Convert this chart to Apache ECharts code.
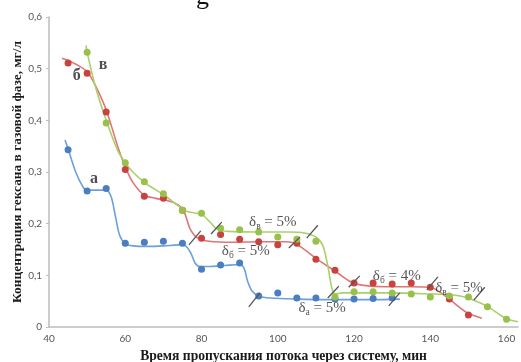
<!DOCTYPE html>
<html>
<head>
<meta charset="utf-8">
<script src="https://cdn.jsdelivr.net/npm/echarts@6/dist/echarts.min.js"></script>
<style>
  html, body { margin: 0; padding: 0; background: #fff; }
  #chart { width: 521px; height: 362px; }
</style>
</head>
<body>
<div id="chart"></div>
<script>
// Measured concentrations (x: minutes, y: mg/l)
const pointsA = [[45,0.343],[50,0.263],[55,0.268],[60,0.162],[65,0.164],[70,0.166],[75,0.162],[80,0.112],[85,0.120],[90,0.124],[95,0.060],[100,0.066],[105,0.056],[110,0.056],[115,0.054],[120,0.054],[125,0.055],[130,0.056]];
const pointsB = [[45,0.511],[50,0.491],[55,0.416],[60,0.305],[65,0.253],[70,0.249],[75,0.226],[80,0.172],[85,0.179],[90,0.170],[95,0.165],[100,0.159],[105,0.162],[110,0.131],[115,0.110],[120,0.085],[125,0.085],[130,0.083],[135,0.085],[140,0.077],[145,0.054],[150,0.023]];
const pointsV = [[50,0.532],[55,0.395],[60,0.318],[65,0.281],[70,0.258],[75,0.226],[80,0.220],[85,0.191],[90,0.188],[95,0.184],[100,0.174],[105,0.170],[110,0.166],[115,0.058],[120,0.068],[125,0.068],[130,0.066],[135,0.064],[140,0.058],[145,0.060],[150,0.058],[155,0.039],[160,0.015]];

// Approximating curves for each run
const curveA = [[44.2,0.362],[45,0.345],[47,0.30],[49,0.270],[50,0.265],[53,0.265],[55,0.265],[56.3,0.252],[57.4,0.215],[58.5,0.178],[60,0.161],[62,0.157],[66,0.156],[70,0.157],[74,0.159],[75.8,0.157],[77.2,0.143],[78.3,0.124],[79.6,0.117],[82,0.117],[86,0.119],[90,0.121],[91.2,0.113],[92.1,0.088],[93.3,0.069],[95,0.060],[98,0.056],[105,0.054],[115,0.053],[125,0.053],[132,0.054]];
const curveB = [[43.4,0.520],[45,0.516],[48,0.505],[50,0.494],[52,0.470],[55,0.420],[58,0.350],[60,0.310],[62,0.280],[65,0.255],[68,0.249],[71,0.245],[74,0.236],[75.6,0.220],[77,0.190],[79,0.172],[82,0.166],[88,0.164],[95,0.165],[102,0.165],[104,0.163],[106,0.155],[110,0.133],[113,0.118],[116,0.103],[119,0.088],[122,0.081],[128,0.078],[135,0.078],[140,0.077],[142,0.070],[145,0.054],[148,0.036],[150,0.026],[153.5,0.017]];
const curveV = [[49.7,0.545],[50,0.532],[52,0.470],[55,0.400],[58,0.342],[60,0.318],[62,0.300],[65,0.280],[70,0.256],[74,0.234],[76,0.224],[80,0.218],[82,0.205],[84,0.190],[87,0.185],[95,0.184],[103,0.184],[107,0.182],[110,0.174],[111.8,0.158],[113.2,0.115],[114.2,0.075],[115,0.064],[117,0.066],[130,0.066],[140,0.064],[146,0.062],[149,0.058],[152,0.050],[155,0.040],[158,0.025],[160,0.016],[163,0.010]];

// Curve letters and step annotations
const curveNames = [[51.8,0.286,'а'],[47.3,0.487,'б'],[54.2,0.507,'в']];
const stepNotes = [[98.7,0.203,'в','5%'],[91.6,0.147,'б','5%'],[111.6,0.037,'а','5%'],[131.2,0.099,'б','4%'],[147.5,0.075,'в','5%']];
// Break marks: [x1, y1, x2, y2]
const breakMarks = [[82.5,0.180,85.3,0.203],[76.7,0.159,79.8,0.186],[92.4,0.039,95.3,0.066],[102.9,0.153,105.8,0.174],[107.6,0.172,110.5,0.197],[113.1,0.056,116.0,0.079],[118.6,0.077,121.5,0.099],[139.1,0.072,142.0,0.097],[129.1,0.041,132.0,0.066],[151.4,0.052,154.3,0.077]];

const xTicks = { min: 40, max: 163, step: 20 };
const yTicks = { min: 0, max: 0.6, step: 0.1 };

const blue = '#4a7ec0', red = '#c8423f', green = '#98c04a';
const blueLine = '#6d9fdc', redLine = '#e07575', greenLine = '#a9d06a';
const serif = '"Liberation Serif", "DejaVu Serif", serif';

function curveSeries(data, color) {
  return { type: 'line', data: data, smooth: 0.3, symbol: 'none', lineStyle: { color: color, width: 1.6 }, z: 2, silent: true };
}
function pointSeries(data, color) {
  return { type: 'scatter', data: data, symbolSize: 7, itemStyle: { color: color, opacity: 1 }, z: 3, silent: true };
}

const chart = echarts.init(document.getElementById('chart'), null, { renderer: 'canvas' });
chart.setOption({
  animation: false,
  backgroundColor: '#fff',
  grid: { left: 49, right: 3, top: 17, bottom: 35, containLabel: false, outerBoundsMode: 'none' },
  xAxis: {
    type: 'value', min: xTicks.min, max: xTicks.max, interval: xTicks.step,
    name: 'Время пропускания потока через систему, мин',
    nameLocation: 'middle', nameGap: 22, nameMoveOverlap: false,
    nameTextStyle: { fontFamily: serif, fontWeight: 'bold', fontSize: 13.6, color: '#1a1a1a', padding: [0, 0, 0, 0] },
    axisLine: { lineStyle: { color: '#bdbdbd', width: 1.5 } },
    axisTick: { show: false },
    splitLine: { show: false },
    axisLabel: { showMaxLabel: false, color: '#555', fontSize: 10, margin: 7, fontFamily: 'Lato, "Open Sans", sans-serif' }
  },
  yAxis: {
    type: 'value', min: yTicks.min, max: yTicks.max, interval: yTicks.step,
    name: 'Концентрация гексана в газовой фазе, мг/л',
    nameLocation: 'middle', nameGap: 25, nameRotate: 90, nameMoveOverlap: false,
    nameTextStyle: { fontFamily: serif, fontWeight: 'bold', fontSize: 13.4, color: '#1a1a1a', padding: [0, 0, 0, 0] },
    axisLine: { show: true, lineStyle: { color: '#bdbdbd', width: 1.5 } },
    axisTick: { show: true, length: 3, lineStyle: { color: '#bdbdbd' } },
    splitLine: { show: false },
    axisLabel: {
      color: '#555', fontSize: 10, margin: 7, fontFamily: 'Lato, "Open Sans", sans-serif',
      formatter: v => v === 0 ? '0' : v.toFixed(1).replace('.', ',')
    }
  },
  series: [
    curveSeries(curveA, blueLine),
    curveSeries(curveB, redLine),
    curveSeries(curveV, greenLine),
    pointSeries(pointsA, blue),
    pointSeries(pointsB, red),
    pointSeries(pointsV, green),
    {
      type: 'line', data: [], symbol: 'none', silent: true, z: 4,
      markLine: {
        symbol: 'none', silent: true, animation: false,
        label: { show: false },
        lineStyle: { color: '#555', width: 1.3, type: 'solid' },
        data: breakMarks.map(m => [{ coord: [m[0], m[1]] }, { coord: [m[2], m[3]] }])
      }
    },
    {
      type: 'scatter', symbolSize: 0, silent: true, z: 5,
      data: curveNames.map(c => ({ value: [c[0], c[1]], name: c[2] })),
      label: { show: true, position: 'inside', formatter: p => p.name, fontFamily: serif, fontWeight: 'bold', fontSize: 16, color: '#222' }
    },
    {
      type: 'scatter', symbolSize: 0, silent: true, z: 5,
      data: stepNotes.map(s => ({ value: [s[0], s[1]], sub: s[2], pct: s[3] })),
      label: {
        show: true, position: 'inside',
        formatter: p => '{d|δ}{s|' + p.data.sub + '}{n| = ' + p.data.pct + '}',
        rich: {
          d: { fontFamily: serif, fontSize: 15, color: '#2a2a2a' },
          s: { fontFamily: serif, fontSize: 9.5, color: '#2a2a2a', padding: [9, 0, 0, 0] },
          n: { fontFamily: serif, fontSize: 15, color: '#2a2a2a' }
        }
      }
    }
  ],
  graphic: [
    { type: 'text', left: 196, top: -16, style: { text: 'g', font: '26px "Liberation Serif", serif', fill: '#111' } }
  ]
});
</script>
</body>
</html>
